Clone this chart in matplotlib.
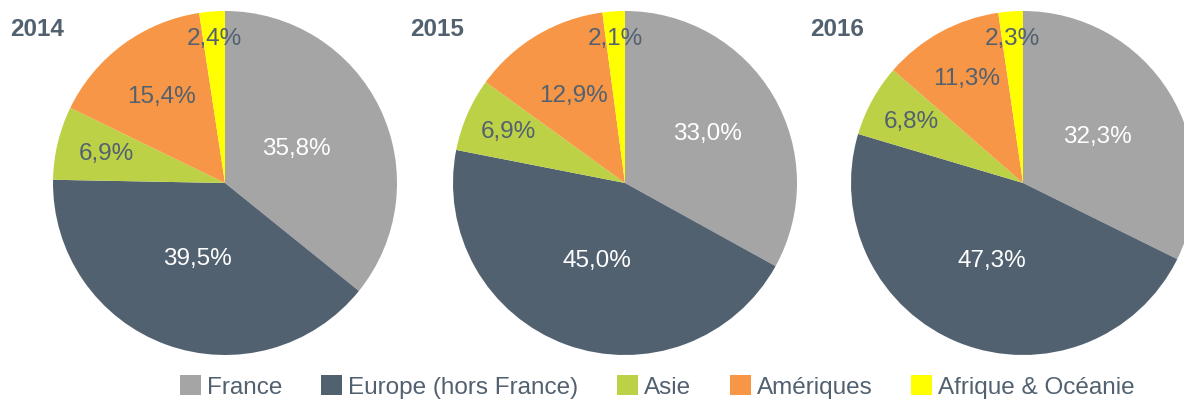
import matplotlib
matplotlib.use("Agg")
import matplotlib.pyplot as plt
import numpy as np

plt.rcParams['font.family'] = ['Liberation Sans', 'DejaVu Sans']

categories = ["France", "Europe (hors France)", "Asie", "Amériques", "Afrique & Océanie"]
years = ["2014", "2015", "2016"]
values_2014 = [35.8, 39.5, 6.9, 15.4, 2.4]
values_2015 = [33.0, 45.0, 6.9, 12.9, 2.1]
values_2016 = [32.3, 47.3, 6.8, 11.3, 2.3]
all_values = [values_2014, values_2015, values_2016]

colors = ["#A5A5A5", "#526170", "#BDD147", "#F79646", "#FFFF00"]
label_colors = ["white", "white", "#526170", "#526170", "#526170"]
label_dist = [
    [0.46, 0.47, 0.71, 0.62, 0.84],
    [0.56, 0.48, 0.74, 0.59, 0.84],
    [0.51, 0.49, 0.74, 0.69, 0.84],
]
dark = "#526170"
fs = 17.5

W, H = 1184, 401
fig = plt.figure(figsize=(W / 100, H / 100), dpi=100)

centers_px = [(225, 183), (625, 183), (1023, 183)]
R = 172

wedges_ref = None
for i, (vals, yr) in enumerate(zip(all_values, years)):
    cx, cy = centers_px[i]
    ax = fig.add_axes([(cx - R) / W, (H - cy - R) / H, 2 * R / W, 2 * R / H])
    wedges, _ = ax.pie(vals, colors=colors, startangle=90, counterclock=False,
                       radius=1.0, wedgeprops=dict(linewidth=0))
    ax.set_xlim(-1, 1)
    ax.set_ylim(-1, 1)
    ax.set_aspect('equal')
    ax.axis('off')
    for k, w in enumerate(wedges):
        mid = np.deg2rad((w.theta1 + w.theta2) / 2)
        d = label_dist[i][k]
        ax.text(d * np.cos(mid), d * np.sin(mid),
                f"{vals[k]:.1f}".replace(".", ",") + "%",
                ha='center', va='center', fontsize=fs, color=label_colors[k])
    if wedges_ref is None:
        wedges_ref = wedges

title_x = [10, 410, 810]
for x, yr in zip(title_x, years):
    fig.text(x / W, 1 - 30 / H, yr, ha='left', va='center', fontsize=fs,
             fontweight='bold', color=dark)

fig.legend(wedges_ref, categories, loc='center', bbox_to_anchor=(657.5 / W, 1 - 387 / H),
           ncol=5, frameon=False, fontsize=fs, labelcolor=dark,
           handlelength=0.85, handleheight=0.85, handletextpad=0.25,
           columnspacing=1.6, borderpad=0, borderaxespad=0)

fig.savefig("out.png", dpi=100)
